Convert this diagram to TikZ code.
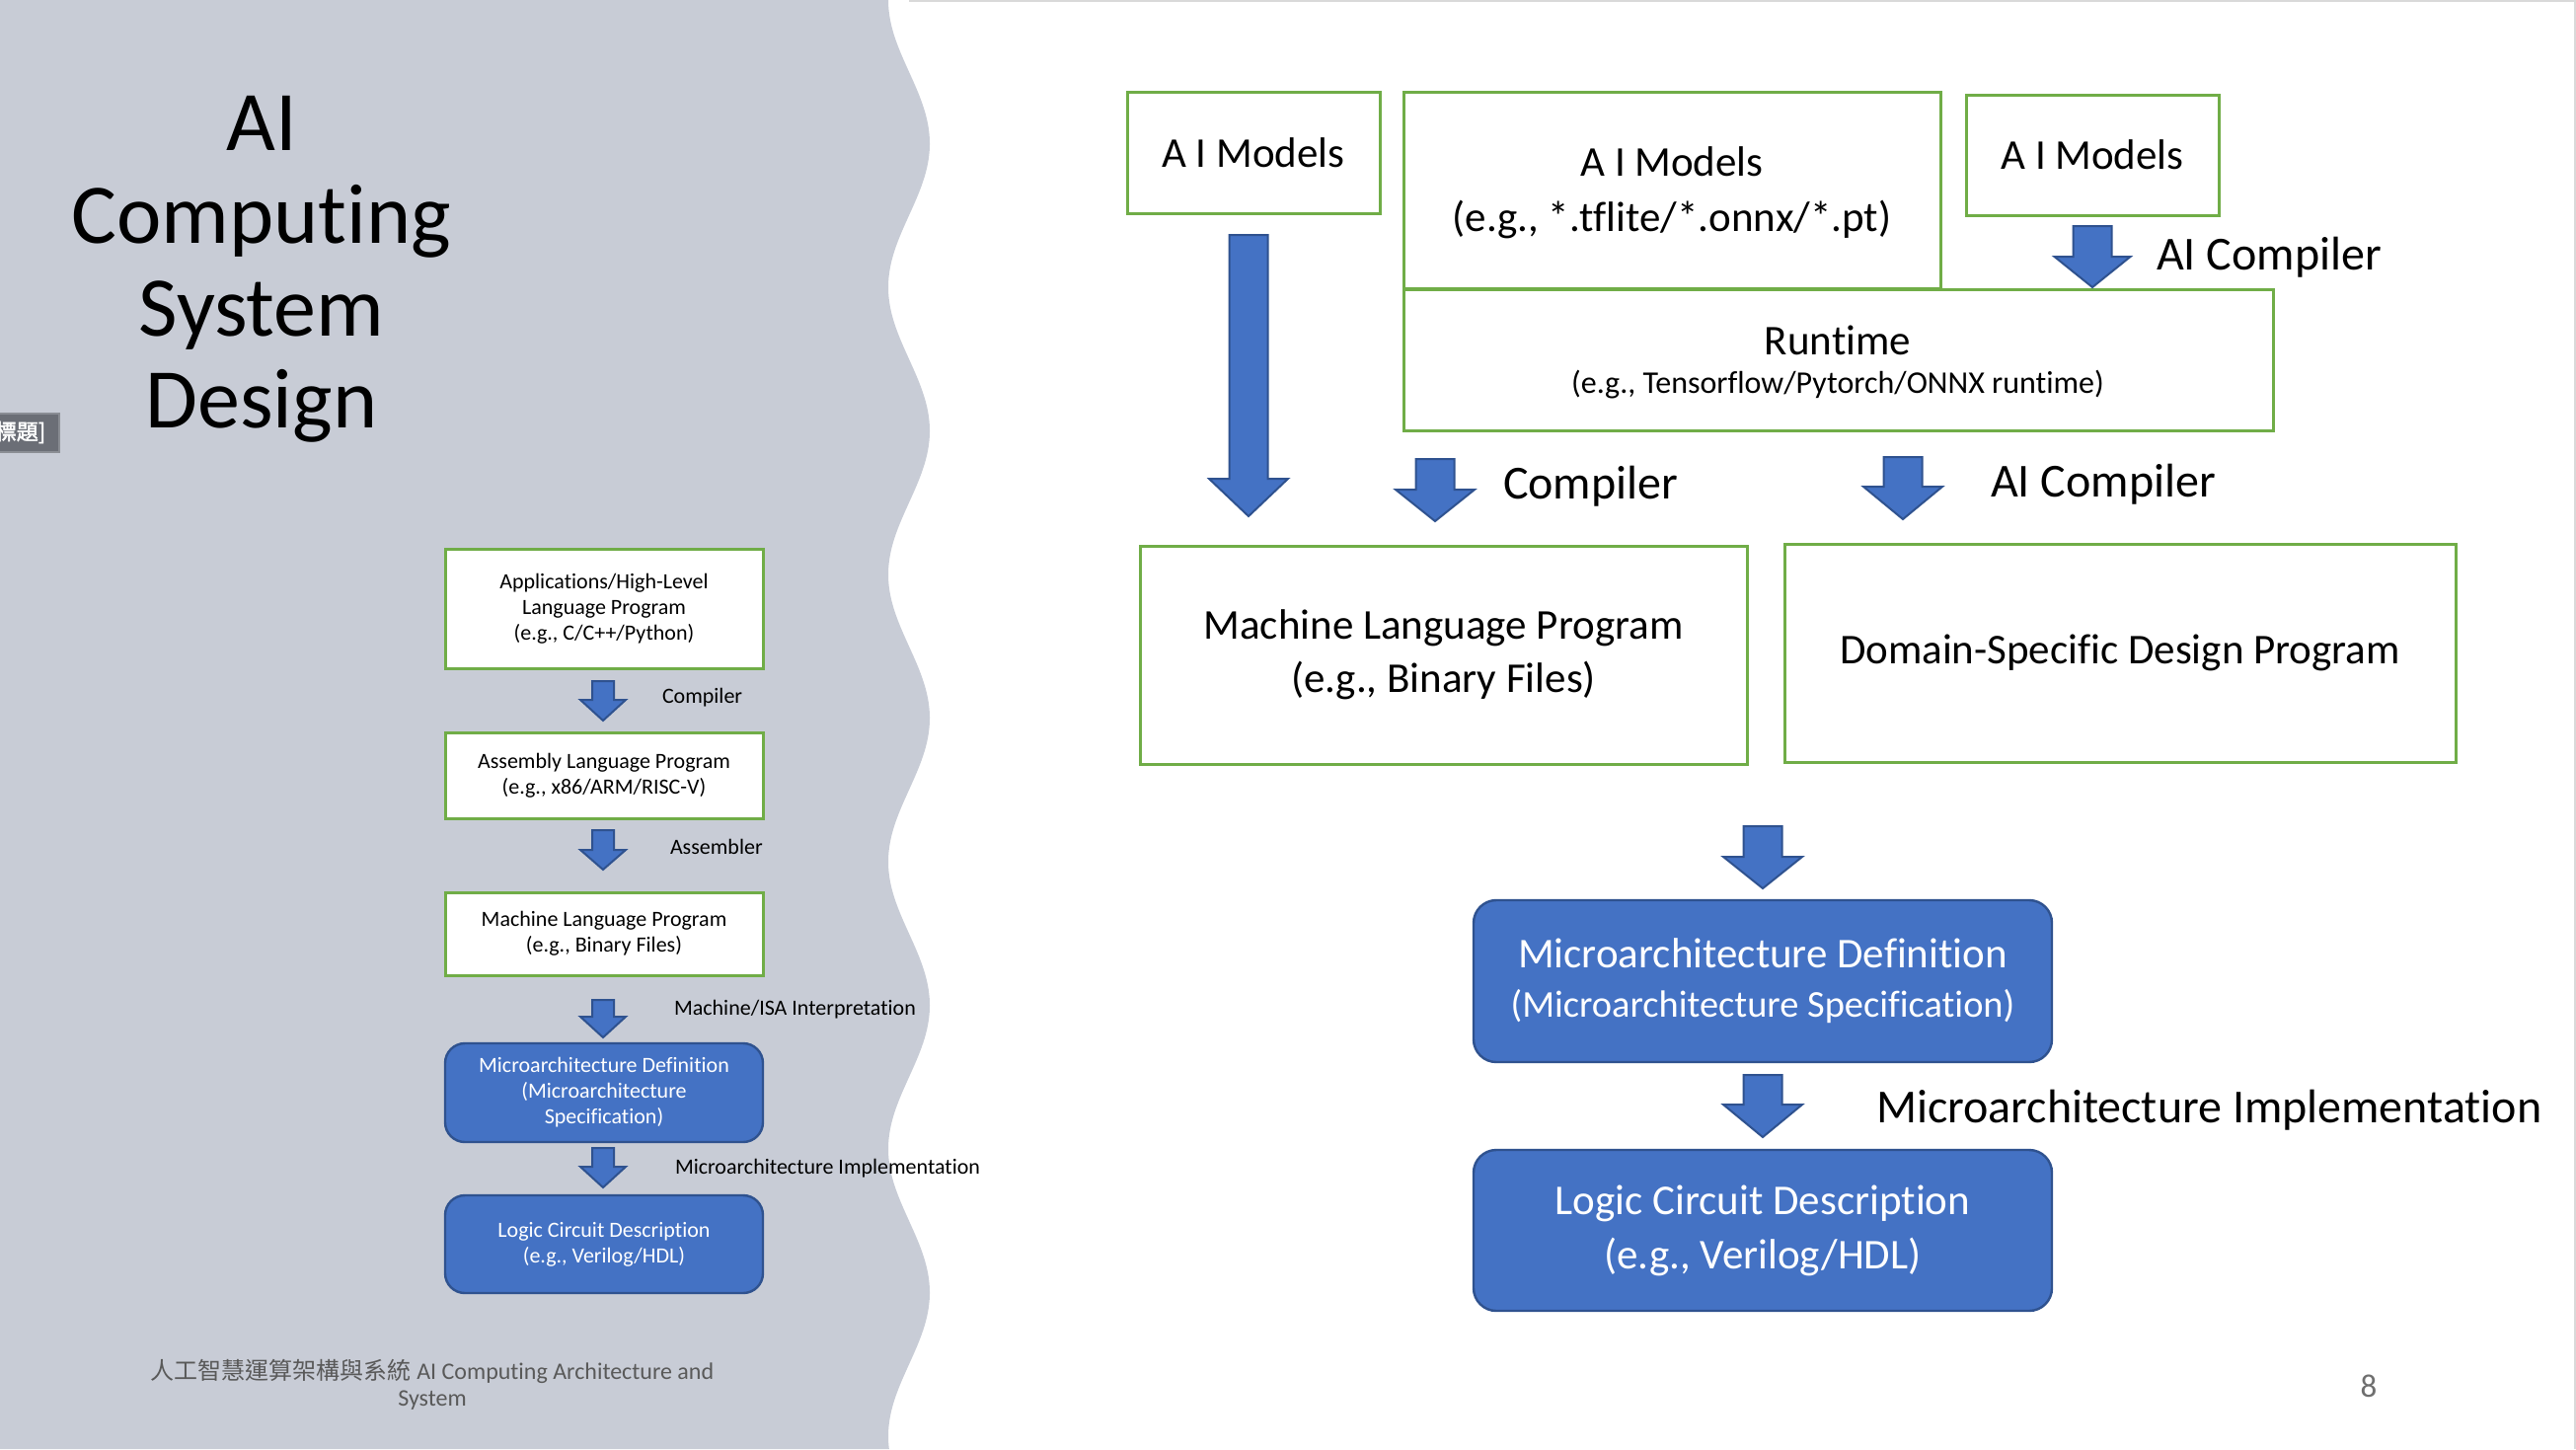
\documentclass[tikz,border=0pt]{standalone}
\usepackage{fontspec}
\setmainfont{Carlito}[Ligatures=CommonOff]
\newfontfamily\cjk{Noto Sans CJK TC}
\newfontfamily\cjkbold[FakeBold=2]{Noto Sans CJK TC}
\usetikzlibrary{fit}
\definecolor{grn}{HTML}{70AD47}
\definecolor{blu}{HTML}{4472C4}
\definecolor{bdr}{HTML}{2F528F}
\definecolor{bgc}{RGB}{200,204,214}
\definecolor{tagc}{HTML}{6B6E76}
\definecolor{tagb}{HTML}{8A8D94}
\definecolor{footgray}{HTML}{595959}
\definecolor{pagegray}{HTML}{6F6F6F}
\definecolor{edge}{HTML}{D9D9D9}
\newcommand\fs[2]{\fontsize{#1}{#2}\selectfont}
\newcommand\blockdown[6]{%
  \draw[arrowst] ({#1-#5},#2) -- ({#1+#5},#2) -- ({#1+#5},#3) -- ({#1+#6},#3)
    -- (#1,#4) -- ({#1-#6},#3) -- ({#1-#5},#3) -- cycle;}
\tikzset{
  gbox/.style={draw=grn, line width=0.75pt, fill=white, inner sep=0pt, outer sep=0pt, align=center},
  bbox/.style={draw=bdr, line width=0.6pt, fill=blu, rounded corners=5.75pt, text=white, inner sep=0pt, outer sep=0pt, align=center},
  arrowst/.style={fill=blu, draw=bdr, line width=0.5pt, line join=miter},
  lbl/.style={anchor=west, inner sep=0pt, outer sep=0pt},
  smallfont/.style={font=\fs{5.5pt}{6.5pt}},
  bigfont/.style={font=\fs{10.75pt}{#1}},
  lblfont/.style={font=\fs{12pt}{14pt}},
}
\begin{document}
\begin{tikzpicture}[x=0.25pt, y=-0.25pt]
\useasboundingbox (0,0) rectangle (2610,1468);
% background
\fill[white] (0,0) rectangle (2610,1468);
\fill[bgc] (0,0) -- plot[domain=0:1468, samples=300, smooth] ({921-21*cos(\x/291*360)},\x) -- (0,1468) -- cycle;
\draw[edge, line width=0.5pt] (921,0.5) -- (2608.5,0.5) -- (2608.5,1468);

% title
\node[anchor=north, inner sep=0pt, align=center, font=\fs{21.5pt}{23.4pt}] (title) at (265,97)
  {AI\\Computing\\System\\Design};

% tag
\begin{scope}
  \clip (0,415) rectangle (64,462);
  \draw[fill=tagc, draw=tagb, line width=0.4pt] (-6,419) rectangle (60,458);
  \node[anchor=east, inner sep=0pt, text=white, font=\cjkbold\fs{5.5pt}{6pt}] (tag) at (47,438) {[標題]};
\end{scope}

% left flow
\node[gbox, smallfont, fit={(451,556) (773,677)}] (l1) {};
\node[smallfont, align=center, inner sep=0pt] at (l1.center) {Applications/High-Level\\Language Program\\(e.g., C/C++/Python)};
\node[gbox, fit={(451,742) (773,829)}] (l2) {};
\node[smallfont, align=center, inner sep=0pt] at (l2.center) {Assembly Language Program\\(e.g., x86/ARM/RISC-V)};
\node[gbox, fit={(451,904) (773,988)}] (l3) {};
\node[smallfont, align=center, inner sep=0pt] at (l3.center) {Machine Language Program\\(e.g., Binary Files)};
\node[bbox, rounded corners=5pt, fit={(451,1057) (773,1157)}] (l4) {};
\node[smallfont, align=center, inner sep=0pt, text=white] at (l4.center) {Microarchitecture Definition\\(Microarchitecture\\Specification)};
\node[bbox, rounded corners=5pt, fit={(451,1211) (773,1310)}] (l5) {};
\node[smallfont, align=center, inner sep=0pt, text=white] at (l5.center) {Logic Circuit Description\\(e.g., Verilog/HDL)};

\blockdown{611}{690}{709}{730}{11}{23}
\blockdown{611}{841}{861}{881}{11}{23}
\blockdown{611}{1013}{1030}{1051}{11}{23}
\blockdown{611}{1163}{1182}{1203}{11}{23}

\node[lbl, smallfont] (lc1) at (671,707) {Compiler};
\node[lbl, smallfont] (lc2) at (679,858) {Assembler};
\node[lbl, smallfont] (lc3) at (683,1023) {Machine/ISA Interpretation};
\node[lbl, smallfont] (lc4) at (684,1184) {Microarchitecture Implementation};

% right diagram
\node[gbox, fit={(1142,93) (1398,216)}] (m1) {};
\node[bigfont=14pt, inner sep=0pt] at (m1.center) {A I Models};
\node[gbox, fit={(1422,93) (1966,292)}] (m2) {};
\node[bigfont=14pt, inner sep=0pt, align=center] at (1694,195) {A I Models\\(e.g., *.tflite/*.onnx/*.pt)};
\node[gbox, fit={(1992,96) (2248,218)}] (m3) {};
\node[bigfont=14pt, inner sep=0pt] at (m3.center) {A I Models};
\node[gbox, fit={(1422,293) (2303,436)}] (rt) {};
\node[bigfont=14pt, inner sep=0pt] (rt1) at (1862,345) {Runtime};
\node[font=\fs{8pt}{9pt}, inner sep=0pt] (rt2) at (1862,390) {(e.g., Tensorflow/Pytorch/ONNX runtime)};

\node[gbox, fit={(1155,553) (1770,774)}] (mlp) {};
\node[bigfont=13.5pt, inner sep=0pt, align=center] at (mlp.center) {Machine Language Program\\(e.g., Binary Files)};
\node[gbox, fit={(1808,551) (2488,772)}] (dsp) {};
\node[bigfont=14pt, inner sep=0pt] at (dsp.center) {Domain-Specific Design Program};

\node[bbox, fit={(1493,912) (2079,1076)}] (mad) {};
\node[bigfont=12.5pt, inner sep=0pt, align=center, text=white] at (mad.center) {Microarchitecture Definition\\{\fs{9.6pt}{12.5pt}(Microarchitecture Specification)}};
\node[bbox, fit={(1493,1165) (2079,1328)}] (lcd) {};
\node[bigfont=13.75pt, inner sep=0pt, align=center, text=white] at (lcd.center) {Logic Circuit Description\\(e.g., Verilog/HDL)};

\blockdown{1265}{238}{485}{523}{19.5}{40}
\blockdown{1454}{465}{496}{528}{19.5}{40}
\blockdown{1928}{463}{493}{526}{19.5}{40}
\blockdown{2120}{229}{260}{291}{19.5}{38.5}
\blockdown{1786}{837}{868}{900}{19.5}{40}
\blockdown{1786}{1089}{1119}{1152}{19.5}{40}

\node[lbl, lblfont] (rc1) at (2185,261) {AI Compiler};
\node[lbl, lblfont] (rc2) at (1523,493) {Compiler};
\node[lbl, lblfont] (rc3) at (2017,491) {AI Compiler};
\node[lbl, lblfont] (rc4) at (1901,1125) {Microarchitecture Implementation};

% footer
\node[align=center, inner sep=0pt, text=footgray, font=\fs{6pt}{6.75pt}] (foot) at (438,1403)
  {{\cjk 人工智慧運算架構與系統} AI Computing Architecture and\\System};
\node[inner sep=0pt, text=pagegray, font=\fs{8.25pt}{9pt}] (pg) at (2400,1404) {8};
\end{tikzpicture}
\end{document}
